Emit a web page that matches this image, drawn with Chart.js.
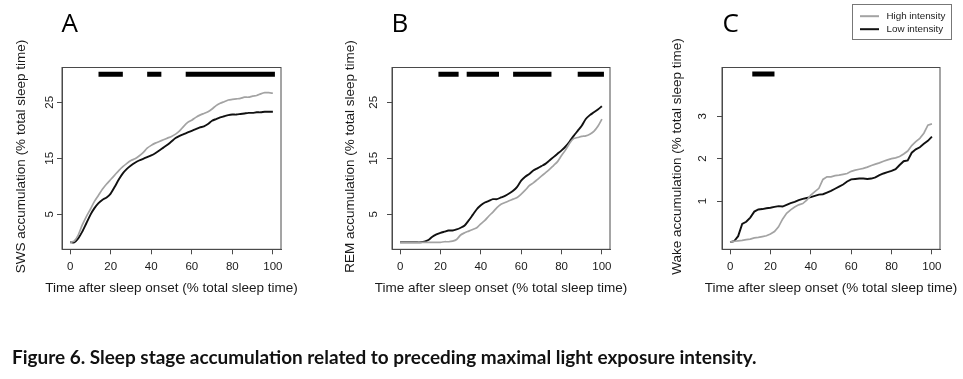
<!DOCTYPE html>
<html><head><meta charset="utf-8">
<script src="https://cdn.jsdelivr.net/npm/chart.js@4.4.1/dist/chart.umd.min.js"></script>
<style>
html,body{margin:0;padding:0;background:#fff;width:963px;height:379px;overflow:hidden;}
canvas{position:absolute;left:0;top:0;}
#caption{position:absolute;left:12px;top:348px;font-family:Lato,"Open Sans",sans-serif;font-weight:bold;white-space:nowrap;color:#111;line-height:normal;}
</style></head><body>
<canvas id="cA" width="963" height="379"></canvas>
<canvas id="cB" width="963" height="379"></canvas>
<canvas id="cC" width="963" height="379"></canvas>
<div id="caption">Figure 6. Sleep stage accumulation related to preceding maximal light exposure intensity.</div>
<script>
// ---- data ----
const xPct = [0,2,4,6,8,10,12,14,16,18,20,22,24,26,28,30,32,34,36,38,40,42,44,46,48,50,52,54,56,58,60,62,64,66,68,70,72,74,76,78,80,82,84,86,88,90,92,94,96,98,100];
const swsHigh = [0,0.2,1.3,3.1,4.6,5.9,7.3,8.4,9.5,10.4,11.2,12.0,12.8,13.5,14.1,14.6,14.9,15.4,16.0,16.8,17.3,17.7,18.0,18.3,18.6,18.9,19.3,19.9,20.7,21.4,21.8,22.3,22.7,23.0,23.3,23.8,24.4,24.8,25.1,25.4,25.5,25.6,25.7,25.9,25.9,26.1,26.2,26.5,26.7,26.7,26.6];
const swsLow = [0,0,0.7,1.9,3.4,4.9,6.1,7.0,7.6,8.0,8.7,9.9,11.2,12.3,13.1,13.7,14.2,14.6,14.9,15.2,15.5,15.9,16.4,16.9,17.4,18.0,18.6,19.0,19.3,19.6,19.9,20.2,20.5,20.7,21.1,21.7,22.0,22.3,22.5,22.7,22.8,22.8,22.9,23.0,23.1,23.1,23.2,23.2,23.3,23.3,23.3];
const remHigh = [0,0,0,0,0,0,0,0,0,0,0,0.1,0.1,0.2,0.5,1.3,1.7,2.0,2.3,2.6,3.3,3.9,4.7,5.4,6.2,6.8,7.1,7.4,7.7,8.0,8.6,9.3,10.1,10.6,11.2,11.8,12.4,13.0,13.7,14.4,15.5,16.5,17.7,18.5,18.7,18.9,19.0,19.3,19.8,20.7,22.0];
const remLow = [0,0,0,0,0,0,0.1,0.4,1.0,1.4,1.7,1.9,2.1,2.1,2.3,2.6,3.0,3.9,4.9,5.9,6.6,7.1,7.4,7.7,7.7,8.0,8.3,8.7,9.2,9.9,11.0,11.7,12.2,12.8,13.2,13.6,14.0,14.6,15.2,15.8,16.4,17.1,18.0,19.0,19.9,20.8,22.0,22.7,23.2,23.7,24.3];
const wakeHigh = [0.03,0.05,0.06,0.07,0.09,0.10,0.13,0.14,0.16,0.18,0.22,0.28,0.39,0.57,0.71,0.79,0.86,0.91,0.94,1.02,1.14,1.22,1.30,1.51,1.57,1.57,1.60,1.61,1.63,1.65,1.70,1.73,1.75,1.77,1.80,1.84,1.87,1.90,1.94,1.97,2.00,2.02,2.05,2.11,2.18,2.31,2.40,2.48,2.60,2.79,2.82];
const wakeLow = [0.03,0.05,0.17,0.46,0.51,0.61,0.75,0.80,0.81,0.83,0.84,0.86,0.88,0.87,0.91,0.95,0.98,1.02,1.05,1.07,1.09,1.12,1.15,1.16,1.20,1.24,1.29,1.34,1.39,1.46,1.51,1.52,1.53,1.53,1.52,1.53,1.56,1.61,1.65,1.68,1.71,1.75,1.85,1.94,1.96,2.14,2.22,2.27,2.35,2.42,2.52];
// significance bars: [start, end] in % total sleep time
const swsSig = [[14,26],[38,45],[57,101]];
const remSig = [[19,29],[33,49],[56,75],[88,101]];
const wakeSig = [[11,22]];
const swsSigLevel = 30, remSigLevel = 30, wakeSigLevel = 4;
// ticks
const xTicks = [0,20,40,60,80,100];
const swsTicks = [5,15,25];
const remTicks = [5,15,25];
const wakeTicks = [1,2,3];
const seriesLabels = ['High intensity','Low intensity'];
const xTitle = 'Time after sleep onset (% total sleep time)';

// ---- helpers ----
function pts(ys){ return xPct.map((x,i)=>({x:x, y:ys[i]})); }
function sigPts(bars, lvl){
  const out=[];
  bars.forEach((b,i)=>{ if(i) out.push({x:b[0], y:null}); out.push({x:b[0],y:lvl},{x:b[1],y:lvl}); });
  return out;
}

const W=963, H=379, TOP=67.5, BOT=249.3, YW=60, XH=60;
const GRAY='#a3a3a3', BLACK='#111111', AXIS='#4a4a4a', TXT='#1a1a1a';
const FONT='"Liberation Sans", Arial, sans-serif';

const panels = [
  {id:'cA', letter:'A', lx:61.5, ly:32.3, left:62, right:281, ymin:-1.25, ymax:31.2, yTicks:swsTicks,
   high:swsHigh, low:swsLow, sig:swsSig, lvl:swsSigLevel, yTitle:'SWS accumulation (% total sleep time)',
   tickPad:0.3, titleX:24.5, tension:0.25},
  {id:'cB', letter:'B', lx:391.5, ly:32.3, left:392, right:610, ymin:-1.25, ymax:31.2, yTicks:remTicks,
   high:remHigh, low:remLow, sig:remSig, lvl:remSigLevel, yTitle:'REM accumulation (% total sleep time)',
   tickPad:6.8, titleX:354, tension:0.25},
  {id:'cC', letter:'C', lx:722.5, ly:32.3, left:722, right:940, ymin:-0.14, ymax:4.152, yTicks:wakeTicks,
   high:wakeHigh, low:wakeLow, sig:wakeSig, lvl:wakeSigLevel, yTitle:'Wake accumulation (% total sleep time)',
   tickPad:11.0, titleX:681, tension:0, legend:true}
];

const decor = {
  id:'decor',
  afterDraw(chart, args, opts){
    const ctx=chart.ctx, a=chart.chartArea;
    ctx.save();
    ctx.strokeStyle=AXIS; ctx.lineWidth=1;
    ctx.strokeRect(a.left, a.top, a.right-a.left, a.bottom-a.top);
    // axis titles
    ctx.fillStyle=TXT; ctx.font='13.5px '+FONT; ctx.textBaseline='alphabetic'; ctx.textAlign='center';
    ctx.fillText(opts.xTitle, (a.left+a.right)/2, 292);
    ctx.save();
    ctx.translate(opts.titleX, 156.5); ctx.rotate(-Math.PI/2);
    ctx.fillText(opts.yTitle, 0, 0);
    ctx.restore();
    // panel letter
    ctx.fillStyle='#000';
    ctx.font='26px "Open Sans", sans-serif';
    ctx.textAlign='left';
    ctx.fillText(opts.letter, opts.lx, opts.ly);
    if(opts.legend){
      ctx.strokeStyle='#777';
      ctx.strokeRect(852.5, 4.5, 99, 35);
      const ds=chart.data.datasets;
      const rows=[16.2, 29.2];
      ctx.font='9.8px '+FONT; ctx.textBaseline='middle';
      for(let i=0;i<2;i++){
        ctx.strokeStyle=ds[i].borderColor; ctx.lineWidth=2;
        ctx.beginPath(); ctx.moveTo(860, rows[i]); ctx.lineTo(879, rows[i]); ctx.stroke();
        ctx.fillStyle=TXT; ctx.fillText(ds[i].label, 886.5, rows[i]+0.5);
      }
    }
    ctx.restore();
  }
};

panels.forEach(p=>{
  new Chart(document.getElementById(p.id), {
    type:'line',
    data:{datasets:[
      {label:seriesLabels[0], data:pts(p.high), borderColor:GRAY, borderWidth:1.7, pointRadius:0, tension:p.tension, fill:false},
      {label:seriesLabels[1], data:pts(p.low), borderColor:BLACK, borderWidth:1.9, pointRadius:0, tension:p.tension, fill:false},
      {label:'sig', data:sigPts(p.sig, p.lvl), borderColor:'#000', borderWidth:5, borderCapStyle:'butt', pointRadius:0, tension:0, spanGaps:false, fill:false}
    ]},
    options:{
      responsive:false, animation:false, devicePixelRatio:1,
      layout:{padding:{left:p.left-YW, right:W-p.right, top:TOP, bottom:H-BOT-XH}},
      plugins:{legend:{display:false}, tooltip:{enabled:false}, title:{display:false},
        decor:{letter:p.letter, lx:p.lx, ly:p.ly, legend:!!p.legend, xTitle:xTitle, yTitle:p.yTitle, titleX:p.titleX}},
      scales:{
        x:{type:'linear', min:-4, max:104,
          afterFit:s=>{s.height=XH;},
          afterBuildTicks:s=>{s.ticks=xTicks.map(v=>({value:v}));},
          grid:{display:true, drawOnChartArea:false, drawTicks:true, tickLength:5, color:AXIS, lineWidth:1},
          border:{display:true, color:AXIS, width:1},
          ticks:{color:TXT, font:{family:FONT, size:11.5}, padding:5.6, maxRotation:0, autoSkip:false},
          title:{display:false}
        },
        y:{type:'linear', min:p.ymin, max:p.ymax,
          afterFit:s=>{s.width=YW;},
          afterBuildTicks:s=>{s.ticks=p.yTicks.map(v=>({value:v}));},
          grid:{display:true, drawOnChartArea:false, drawTicks:true, tickLength:5, color:AXIS, lineWidth:1},
          border:{display:true, color:AXIS, width:1},
          ticks:{color:TXT, font:{family:FONT, size:11.5}, padding:p.tickPad, minRotation:90, maxRotation:90, crossAlign:'center', autoSkip:false},
          title:{display:false}
        }
      }
    },
    plugins:[decor]
  });
});

// caption: fit width to the reference
(function(){
  const cap=document.getElementById('caption');
  const c=document.createElement('canvas').getContext('2d');
  c.font='bold 100px Lato';
  const w=c.measureText(cap.textContent).width;
  const fs=100*745/w;
  cap.style.fontSize=fs.toFixed(2)+'px';
  cap.style.top=(363.3-0.987*fs).toFixed(1)+'px';
})();
</script>
</body></html>
